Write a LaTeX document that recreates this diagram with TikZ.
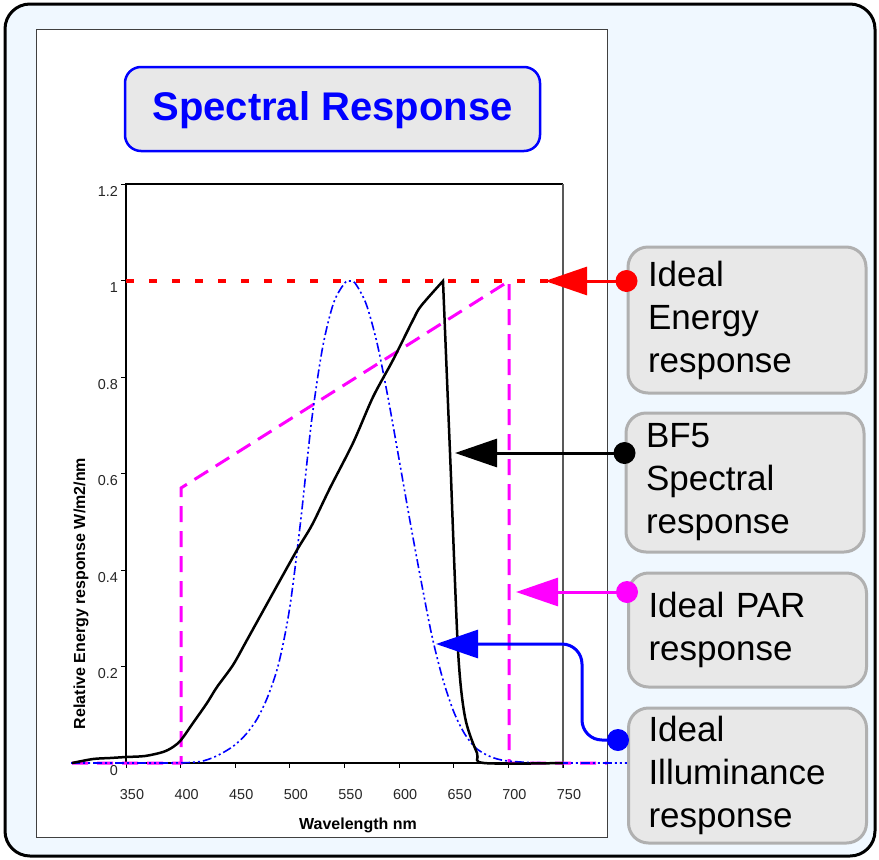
\documentclass[tikz,border=0pt]{standalone}
\usepackage{fontspec}
\setmainfont{Liberation Sans}
\usetikzlibrary{arrows.meta,positioning}
\definecolor{paleblue}{HTML}{F0F8FF}
\definecolor{boxgray}{HTML}{E8E8E8}
\definecolor{edgegray}{HTML}{B0B0B0}
\definecolor{parpink}{RGB}{255,0,255}
\definecolor{engred}{RGB}{255,0,0}
\definecolor{illblue}{RGB}{0,0,255}
\tikzset{
  keybox/.style={draw=edgegray,fill=boxgray,line width=3pt,rounded corners=20pt,
    inner xsep=20pt,text width=198pt,align=left,minimum width=238pt,
    font=\fontsize{35}{43}\selectfont},
  pointer/.style={line width=3pt,-{Triangle[length=42pt,width=28pt]}},
  dot/.style={circle,inner sep=0pt,minimum size=22pt},
  ticklabel/.style={font=\fontsize{14.4}{16}\selectfont,text=black!85,inner sep=0pt},
  axistitle/.style={font=\fontsize{16}{18}\selectfont\bfseries,inner sep=0pt},
}
\begin{document}
\begin{tikzpicture}[x=1pt,y=-1pt]
	\useasboundingbox (0,0) rectangle (879,860);
	% frames
	\draw[line width=3pt,fill=paleblue,rounded corners=25pt] (5,4) rectangle (875,856);
	\draw[black!75,fill=white,line width=1pt] (36,29) rectangle (607,837);
	\node[draw=illblue,line width=2.5pt,fill=boxgray,rounded corners=16pt,minimum width=415pt,minimum height=84pt,
		text=illblue,font=\fontsize{40}{44}\selectfont\bfseries,text height=30pt,text depth=8pt] (title) at (332.5,109) {Spectral Response};
	% axes
	\draw[line width=1.5pt] (126,763) -- (126,184) -- (563,184);
	\draw[black!65,line width=1.5pt] (563,184) -- (563,768);
	\draw[line width=1.5pt] (126,763) -- (563,763);
	\foreach \i/\t in {0/0,1/0.2,2/0.4,3/0.6,4/0.8,5/1,6/1.2}{
		\draw[line width=1pt] (121,{763-96.5*\i}) -- (126,{763-96.5*\i});
		\node[ticklabel,anchor=base east] (yl\i) at (118,{775-96.5*\i}) {\t};
	}
	\foreach \n [count=\i from 0] in {350,400,...,750}{
		\draw[line width=1pt] ({126+54.625*\i},763) -- ({126+54.625*\i},768);
		\node[ticklabel,anchor=base] (xl\i) at ({132+54.625*\i},799) {\n};
	}
	\node[axistitle,anchor=base] (xtitle) at (358,829) {Wavelength nm};
	\node[axistitle,anchor=base,rotate=90] (ytitle) at (85,593.5) {Relative Energy response W/m2/nm};
	% curves
	\draw[engred,line width=4pt,dash pattern=on 8pt off 15pt] (126,281) -- (548,281);
	\draw[parpink,line width=3pt,dash pattern=on 16pt off 9pt] (72,763) -- (181,763) -- (181,488) -- (509,281) -- (509,763) -- (607,763);
	\draw[illblue,line width=1.6pt,dash pattern=on 9pt off 3pt on 2pt off 3pt on 2pt off 3pt] plot[smooth,tension=.5] coordinates {
		(71,763) (159,763) (181,762.8) (191.5,762.4) (202.4,761.1) (213.4,757.4) (224.3,751.9) (235.2,744.7)
		(246.1,734.1) (257,719.1) (268,696) (278.9,662.7) (289.8,607.3) (300.7,520.6) (311.6,420.8)
		(322.6,347.5) (333.5,303.2) (344.4,283.4) (349.9,281) (355.3,283.4) (366.2,304.1) (377.2,343.7)
		(388.1,398.1) (399,458.9) (409.9,520.6) (420.8,579.4) (431.8,635.3) (442.7,678.7) (453.6,711.4)
		(464.5,733.6) (475.4,747.6) (486.4,754.8) (497.3,759) (508.2,761) (530,762.5) (560,763) (628,763)};
	\draw[black,line width=2.5pt] plot[smooth,tension=.5] coordinates {
		(72,763) (93,759) (110,758) (126,757) (145,756) (163,752) (173,747) (181,740) (193,723)
		(207,703) (217,687) (233,665) (247,640) (273,593) (297,550) (312,525) (330,488) (353,443)
		(373,397) (393,360) (413,320) (421,306) (443,281)}
		-- plot[smooth,tension=.5] coordinates {(451,477) (458,650) (465,717) (477,753) (484,763) (563,763)};
	% keys
	\node[keybox,minimum height=146pt] (eng) at (747,320) {Ideal\\Energy\\response};
	\node[keybox,minimum height=139pt] (bf5) at (745,482.5) {BF5\\Spectral\\response};
	\node[keybox,minimum height=114pt] (par) at (747.5,630) {Ideal PAR\\response};
	\node[keybox,minimum height=135pt] (ill) at (747.5,775.5) {Ideal\\Illuminance\\response};
	% pointers
	\coordinate (engTip) at (545,281);
	\coordinate (bf5Tip) at (455,453);
	\coordinate (parTip) at (516,592);
	\coordinate (illTip) at (436,644);
	\coordinate (illBend) at (582,644);
	\node[dot,fill=engred] (engDot) at (eng.west |- engTip) {};
	\node[dot,fill=black] (bf5Dot) at (bf5.west |- bf5Tip) {};
	\node[dot,fill=parpink] (parDot) at (par.west |- parTip) {};
	\node[dot,fill=illblue] (illDot) at (618,740) {};
	\draw[pointer,engred] (engDot.center) -- (engTip);
	\draw[pointer,black] (bf5Dot.center) -- (bf5Tip);
	\draw[pointer,parpink] (parDot.center) -- (parTip);
	\draw[pointer,illblue,rounded corners=20pt] (illDot.center) -| (illBend) -- (illTip);
\end{tikzpicture}
\end{document}
